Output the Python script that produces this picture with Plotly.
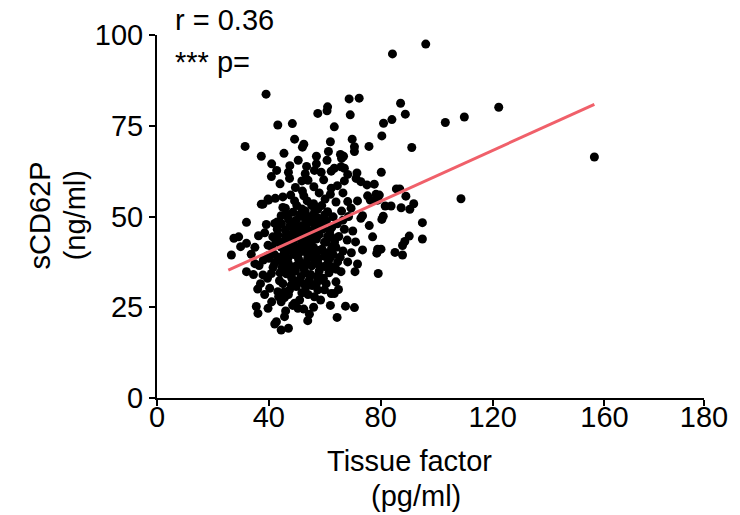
import plotly.graph_objects as go

# ---- data ----
pts = [
    # sparse upper / right
    (96.1,97.5),(84.2,94.8),(87.1,81.2),(88.8,78.2),(84.0,76.7),(81.0,75.7),(80.4,72.2),(91.1,69.0),
    (103.1,75.9),(109.9,77.4),(122.2,80.1),(156.4,66.4),(80.2,62.2),(85.6,57.6),(86.8,57.6),(89.0,55.6),
    (79.5,55.9),(108.7,54.9),(81.6,52.9),(83.7,52.9),(87.3,52.4),(91.8,53.5),(90.4,52.0),(80.9,50.1),
    (80.4,49.2),(94.9,48.3),
    (68.7,82.4),(72.3,82.6),(69.1,78.0),(63.4,74.7),(69.8,71.3),(70.6,69.2),(70.6,67.9),(75.8,69.3),
    (65.6,67.1),(66.7,66.6),(66.0,66.0),(63.4,63.3),(65.8,63.7),(67.0,63.3),(68.2,61.6),(71.5,62.0),
    (39.0,83.7),(61.0,80.2),(60.8,79.1),(57.5,78.4),(43.2,75.2),(48.4,75.6),(49.2,71.3),(52.5,69.9),
    (52.0,69.1),(62.0,70.6),(31.5,69.3),(45.4,67.4),(37.3,66.6),(61.3,67.9),(57.0,66.6),(60.8,65.5),
    (57.0,64.5),(56.3,62.7),(58.7,62.2),(62.3,62.5),(42.8,62.7),(47.0,62.2),(53.0,61.8),
    (41.0,64.5),(47.5,64.0),(50.5,65.5),(53.5,63.8),(44.0,59.0),(49.5,58.0),(54.0,60.0),
    # upper core
    (40.9,61.0),(47.4,60.5),(51.8,59.8),(56.1,58.2),(59.6,60.1),(62.3,57.8),
    (39.7,54.8),(42.3,55.0),(45.0,55.4),(47.8,55.9),(49.2,54.3),(52.5,55.7),(53.7,54.3),(55.3,53.0),
    (58.9,53.0),(60.1,54.8),(62.0,56.1),(37.9,53.4),(45.9,52.3),(48.6,51.2),(51.8,52.1),(56.3,51.2),
    (61.0,51.3),
    # middle core
    (44.4,50.2),(47.0,49.3),(49.8,49.0),(52.3,49.9),(54.6,48.4),(57.7,49.5),(60.6,48.8),(63.0,49.9),
    (47.5,47.5),(50.6,47.1),(53.5,46.7),(56.6,47.1),(59.4,46.6),(45.9,46.2),(49.4,45.6),(55.3,45.5),
    (61.8,46.0),(42.1,48.1),(43.0,48.5),
    (46.3,43.8),(48.7,42.9),(51.6,43.4),(53.9,42.5),(57.0,43.8),(59.9,42.9),(62.3,44.4),(41.1,41.6),
    (44.4,41.6),(47.5,40.7),(51.0,40.1),(54.6,40.7),(58.2,40.7),(61.3,40.1),(39.7,39.2),(43.2,38.8),
    (46.8,38.5),(50.6,38.3),(53.9,38.5),(57.7,38.5),(61.8,38.5),
    # left side
    (32.0,48.4),(27.5,44.0),(29.2,44.4),(26.6,39.4),(29.9,41.7),(32.0,42.6),(36.3,44.7),(39.1,47.8),
    (37.3,53.4),(39.9,54.5),(41.4,44.4),(43.2,44.9),(39.7,42.1),(33.7,39.6),
    # lower core
    (42.1,37.1),(44.7,36.0),(46.3,34.2),(48.0,36.0),(48.2,33.0),(50.6,32.3),(51.8,37.1),(53.0,34.5),
    (55.3,36.4),(53.2,30.5),(51.8,29.0),(43.8,32.3),(45.6,27.7),(57.7,36.9),(40.9,34.3),
    (32.0,34.8),(37.9,33.9),(39.5,33.0),(40.3,30.2),(43.2,29.3),(43.5,27.9),(44.4,26.5),(45.6,29.3),
    (47.4,29.8),(48.0,31.1),(49.8,30.7),(35.5,25.2),(36.1,23.3),(39.7,24.7),(45.6,22.4),(42.7,21.0),
    (42.1,20.4),(44.4,18.7),(47.0,19.2),(49.2,26.1),(50.4,24.7),(54.5,23.1),(53.9,21.3),(56.3,27.9),
    (57.5,29.8),(59.9,29.8),(62.3,28.8),(58.7,32.5),(57.3,33.4),(59.9,36.2),(62.3,36.2),
    (64.6,37.5),(68.2,37.5),(71.7,36.9),(65.8,34.8),(70.8,34.8),(79.1,34.3),(64.0,32.0),(64.9,29.9),
    (63.4,28.8),(67.4,25.3),(70.6,24.9),(64.4,22.2),
    # right of core
    (67.0,59.8),(72.9,59.6),(75.1,58.7),(77.7,58.9),(71.2,60.5),(75.3,55.7),(78.3,56.1),(76.3,54.5),
    (78.9,54.5),(71.7,54.3),(69.4,52.3),(68.2,54.1),(73.5,50.2),(72.9,49.5),(75.9,47.5),(77.1,44.4),
    (90.2,44.6),(88.6,43.1),(87.8,42.0),(94.9,43.8),(73.5,40.8),(78.9,41.0),(80.1,41.0),(78.6,39.9),
    (85.1,40.1),(87.8,39.4),
    (64.5,58.5),(66.5,56.5),(64.0,54.0),(66.0,51.5),(68.5,50.0),(64.5,48.0),(67.0,46.5),(70.0,46.0),
    (65.0,44.5),(68.0,43.5),(71.0,43.0),(64.0,41.5),(66.5,40.5),(69.5,40.0),(65.5,38.8),
    (36.5,36.5),(38.0,38.0),(35.0,37.0),(37.0,31.5),(34.5,34.0),(41.5,36.0),(40.0,38.5),
    # dense fill
    (45.0,52.5),(50.0,53.0),(53.0,51.5),(57.5,52.0),(60.0,50.5),(46.5,50.5),(51.0,50.5),(55.0,50.0),
    (58.5,47.5),(62.5,47.0),(44.5,48.0),(48.5,47.0),(52.0,47.5),(55.5,46.0),(58.0,45.0),(61.0,44.5),
    (46.0,44.5),(50.0,44.5),(53.0,44.0),(55.5,43.5),(60.5,43.0),(44.0,43.0),(47.5,42.0),(52.0,41.5),
    (56.0,41.5),(59.0,41.0),(62.5,41.5),(45.5,40.0),(49.0,39.5),(55.5,39.0),(60.0,39.0),(42.0,39.5),
    (47.0,37.0),(50.0,36.5),(53.5,37.0),(56.5,37.5),(61.0,37.0),(44.0,34.5),(48.0,34.0),(51.5,33.5),
    (55.0,34.0),(58.0,35.0),(61.5,34.5),(45.0,31.5),(49.0,32.0),(52.5,31.5),(55.5,31.0),(60.5,31.5),
    (47.0,28.5),(51.0,27.0),(54.0,28.5),(58.5,27.0),(48.5,25.5),(52.5,24.5),(56.0,25.0),(46.0,24.0),
    (62.0,25.5),(41.0,26.5),(38.5,28.5),(36.0,30.0),
    (46.0,36.0),(49.5,35.0),(52.5,35.5),(54.5,32.5),(57.0,31.5),(50.0,41.5),(53.5,40.0),(57.0,40.0),
    (48.0,45.0),(51.5,45.5),(54.0,45.0),(57.0,46.0),(49.0,48.5),(53.5,48.5),(56.0,48.5),(59.0,49.0),
    (43.0,46.5),(46.0,41.5),(63.5,43.0),(63.0,39.5),(59.5,33.0),(56.0,53.5),(52.0,57.0),(58.0,56.5),
    (44.5,38.0),(42.5,43.0),(38.5,45.5),(35.0,41.5),(64.0,35.5),(66.5,49.0),
]
tissue_factor = [p[0] for p in pts]
scd62p = [p[1] for p in pts]

fit_x = [25.5, 156.4]
fit_y = [35.2, 80.9]

x_tickvals = [0, 40, 80, 120, 160, 195.6]
x_ticktext = ["0", "40", "80", "120", "160", "180"]
y_tickvals = [0, 25, 50, 75, 100]

FONT = "Liberation Sans, Arial, sans-serif"

fig = go.Figure()
fig.add_trace(go.Scatter(x=tissue_factor, y=scd62p, mode="markers",
                         marker=dict(color="black", size=9, line=dict(width=0)),
                         showlegend=False, hoverinfo="skip"))
fig.add_trace(go.Scatter(x=fit_x, y=fit_y, mode="lines",
                         line=dict(color="#f0606a", width=3), showlegend=False))

axis_common = dict(showgrid=False, zeroline=False, showline=True, linecolor="black",
                   linewidth=2, ticks="outside", tickwidth=2, ticklen=6, tickcolor="black",
                   tickfont=dict(family=FONT, size=29, color="black"))
fig.update_xaxes(range=[0, 195.6], tickvals=x_tickvals, ticktext=x_ticktext,
                 ticklabelstandoff=-14, **axis_common)
fig.update_yaxes(range=[0, 100], tickvals=y_tickvals, **axis_common)

ann_font = dict(family=FONT, size=29, color="black")
fig.add_annotation(text="r = 0.36", xref="paper", yref="paper", x=0.029, y=1.041,
                   xanchor="left", yanchor="middle", showarrow=False, font=ann_font)
fig.add_annotation(text="*** p=", xref="paper", yref="paper", x=0.029, y=0.925,
                   xanchor="left", yanchor="middle", showarrow=False, font=ann_font)
# axis titles
fig.add_annotation(text="Tissue factor", xref="paper", yref="paper", x=(410-157)/549, y=(398-461)/363,
                   xanchor="center", yanchor="middle", showarrow=False, font=ann_font)
fig.add_annotation(text="(pg/ml)", xref="paper", yref="paper", x=(417-157)/549, y=(398-496)/363,
                   xanchor="center", yanchor="middle", showarrow=False, font=ann_font)
fig.add_annotation(text="sCD62P", xref="paper", yref="paper", x=(40-157)/549, y=(398-215)/363,
                   xanchor="center", yanchor="middle", showarrow=False, textangle=-90, font=ann_font)
fig.add_annotation(text="(ng/ml)", xref="paper", yref="paper", x=(75-157)/549, y=(398-215)/363,
                   xanchor="center", yanchor="middle", showarrow=False, textangle=-90, font=ann_font)

fig.update_layout(width=740, height=515, margin=dict(l=157, r=34, t=35, b=117),
                  plot_bgcolor="white", paper_bgcolor="white")
fig.write_html("out.html")
